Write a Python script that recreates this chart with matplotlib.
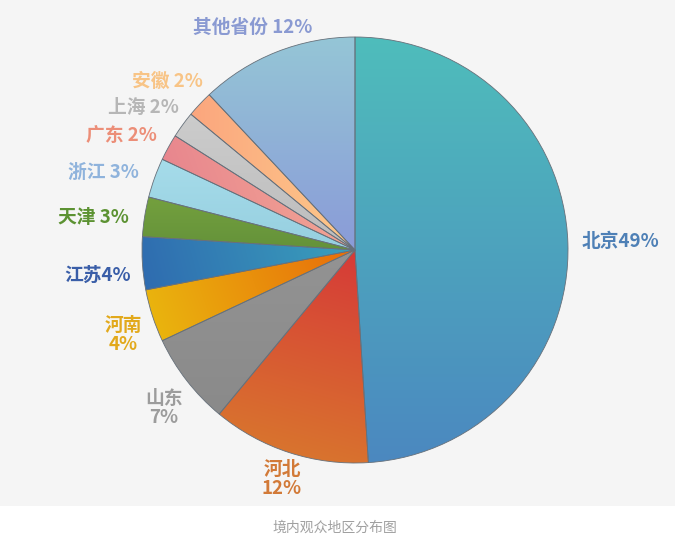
import numpy as np
import matplotlib
matplotlib.use("Agg")
import matplotlib.pyplot as plt
from matplotlib.colors import to_rgb
from matplotlib.patches import Rectangle

plt.rcParams['font.family'] = ['Noto Sans CJK SC', 'DejaVu Sans']

# Audience share by region (%)
regions = ["北京", "河北", "山东", "河南", "江苏", "天津", "浙江", "广东", "上海", "安徽", "其他省份"]
shares = [49, 12, 7, 4, 4, 3, 3, 2, 2, 2, 12]
caption = "境内观众地区分布图"

# Separator between name and value in each label
seps = ["", "\n", "\n", "\n", "", " ", " ", " ", " ", " ", " "]

# Fill gradients per slice: (start colour, end colour, gradient direction in degrees)
fills = [
    ("#4fbdbb", "#4b88c0", -90),
    ("#d63a38", "#d9742e", -105),
    ("#939393", "#8a8a8a", -90),
    ("#e86c0a", "#eab40e", -160),
    ("#3aa0bc", "#2f6cb0", -165),
    ("#74a03e", "#64923a", -90),
    ("#a6dcea", "#96cfe0", -90),
    ("#f2a494", "#e8868e", 200),
    ("#cccccc", "#bcbcbc", -90),
    ("#fdc98a", "#fba67e", 180),
    ("#95c6d6", "#8a9bd8", -90),
]
label_colors = ["#4e80b6", "#d27a38", "#9c9c9c", "#e2a91c", "#3a5ea8", "#5c9232",
                "#8fb3dc", "#ec8e78", "#b6b6b6", "#f8c486", "#8a9ad2"]
# Label centres in pixels (x, y from top-left)
label_px = [(620, 242), (282, 479), (164, 408), (123, 335), (98, 275), (93, 218),
            (103, 173), (121, 136), (143, 107), (167, 81), (253, 27)]

W, H = 675, 548
CX, CY, R = 355, 250, 213

fig = plt.figure(figsize=(W / 100, H / 100), dpi=100, facecolor="white")
fig.patches.append(Rectangle((0, (H - 506) / H), 1, 506 / H, transform=fig.transFigure,
                             facecolor="#f5f5f5", edgecolor="none", zorder=-10))
ax = fig.add_axes([0, 0, 1, 1])
ax.set_facecolor("none")
ax.set_axis_off()


def px(x, y):
    return (x - CX) / R, (CY - y) / R


wedges, _ = ax.pie(shares, startangle=90, counterclock=False, radius=1,
                   wedgeprops=dict(edgecolor="#66707a", linewidth=0.6))

n = 500
g = np.linspace(-1, 1, n)
X, Y = np.meshgrid(g, g)
for w, (c0, c1, ang) in zip(wedges, fills):
    d = np.deg2rad(ang)
    dx, dy = np.cos(d), np.sin(d)
    verts = w.get_path().vertices
    proj = verts[:, 0] * dx + verts[:, 1] * dy
    t = (X * dx + Y * dy - proj.min()) / max(proj.max() - proj.min(), 1e-9)
    t = np.clip(t, 0, 1)[..., None]
    rgb = np.array(to_rgb(c0)) * (1 - t) + np.array(to_rgb(c1)) * t
    im = ax.imshow(rgb, extent=[-1, 1, -1, 1], origin="lower",
                   interpolation="bilinear", zorder=0.5)
    im.set_clip_path(w)
    w.set_facecolor("none")
    w.set_zorder(1)

for name, val, sep, col, (x, y) in zip(regions, shares, seps, label_colors, label_px):
    tx, ty = px(x, y)
    ax.text(tx, ty, f"{name}{sep}{val}%", color=col, fontsize=13.5, fontweight="heavy",
            ha="center", va="center", linespacing=1.05)

cx, cy = px(335, 528)
ax.text(cx, cy, caption, color="#a0a0a0", fontsize=10, ha="center", va="center")

ax.set_xlim(-CX / R, (W - CX) / R)
ax.set_ylim(-(H - CY) / R, CY / R)
ax.set_aspect("equal", adjustable="box")

fig.savefig("out.png", dpi=100, facecolor="white")
